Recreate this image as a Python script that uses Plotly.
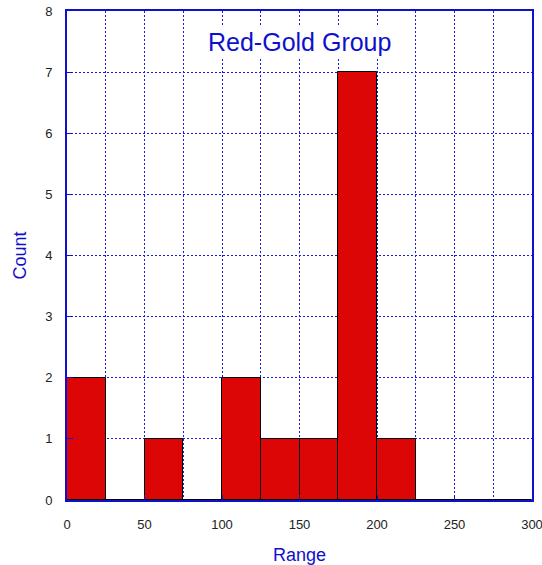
import plotly.graph_objects as go

bin_starts = [0, 25, 50, 75, 100, 125, 150, 175, 200, 225, 250, 275]
counts = [2, 0, 1, 0, 2, 1, 1, 7, 1, 0, 0, 0]
bin_width = 25
x_ticks = [0, 50, 100, 150, 200, 250, 300]
y_ticks = [0, 1, 2, 3, 4, 5, 6, 7, 8]

centers = [b + bin_width / 2 for b in bin_starts]

fig = go.Figure()
fig.add_trace(go.Bar(
    x=centers, y=counts, width=[bin_width] * len(counts),
    marker=dict(color="#DD0606", line=dict(color="black", width=1)),
    showlegend=False,
))

blue = "#1010CC"
grid_blue = "#1A1AE6"
fig.update_layout(
    width=542, height=565,
    margin=dict(l=67, r=10, t=11, b=65),
    plot_bgcolor="white", paper_bgcolor="white",
    font=dict(family="Liberation Sans, Arial", size=13, color="#222222"),
    bargap=0,
    annotations=[dict(
        text="Red-Gold Group", x=0.501, y=0.937, xref="paper", yref="paper",
        xanchor="center", yanchor="middle",
        showarrow=False, font=dict(size=25, color=blue, family="Liberation Sans, Arial"),
        bgcolor="white",
    )],
)
fig.update_xaxes(
    range=[0, 300], tickvals=x_ticks, ticks="inside", ticklen=5, tickcolor=blue,
    showgrid=True, gridcolor=grid_blue, griddash="2px,2px", gridwidth=1,
    minor=dict(dtick=25, tick0=0, showgrid=True, gridcolor=grid_blue, griddash="2px,2px", gridwidth=1),
    showline=True, linecolor=blue, linewidth=2, mirror=True,
    zeroline=False, automargin=False, ticklabeloverflow="allow",
    title=dict(text="Range", font=dict(size=18, color=blue), standoff=18),
    ticklabelstandoff=11,
)
fig.update_yaxes(
    range=[0, 8], tickvals=y_ticks, ticks="inside", ticklen=6, tickcolor=blue,
    showgrid=True, gridcolor=grid_blue, griddash="2px,2px", gridwidth=1,
    showline=True, linecolor=blue, linewidth=2, mirror=True,
    zeroline=False, automargin=False,
    title=dict(text="Count", font=dict(size=18, color=blue), standoff=14),
    ticklabelstandoff=10,
)
fig.write_html("out.html", config={"displayModeBar": False},
               post_script="document.body.style.margin='0';")
